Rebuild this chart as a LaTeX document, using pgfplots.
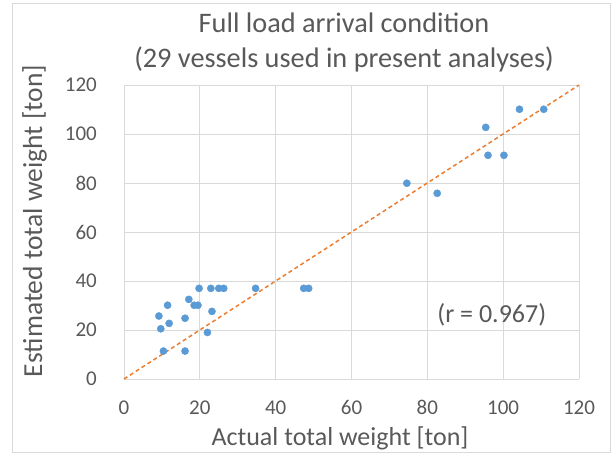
\documentclass[border=0pt]{standalone}
\usepackage{pgfplots}
\pgfplotsset{compat=1.18}
\usepackage{fontspec}
\setmainfont{Carlito}
\definecolor{txt}{HTML}{595959}
\definecolor{gridc}{HTML}{D9D9D9}
\definecolor{pts}{HTML}{5B9BD5}
\definecolor{fitc}{HTML}{ED7D31}
\begin{document}
\begin{tikzpicture}[x=1pt,y=1pt]
\useasboundingbox (0,0) rectangle (616,455);
\draw[gridc] (12,3) rectangle (610,452);
\node[text=txt,font=\fontsize{28.3}{35}\selectfont,anchor=base] at (344,422) {Full load arrival condition};
\node[text=txt,font=\fontsize{28.3}{35}\selectfont,anchor=base] at (344,387) {(29 vessels used in present analyses)};
\node[text=txt,font=\fontsize{26}{30}\selectfont] at (340,17) {Actual total weight [ton]};
\node[text=txt,font=\fontsize{27.5}{30}\selectfont,rotate=90,anchor=base] at (42,234) {Estimated total weight [ton]};
\begin{axis}[
  at={(124pt,76pt)}, anchor=south west,
  scale only axis, width=455pt, height=294pt,
  xmin=0, xmax=120, ymin=0, ymax=120,
  xtick={0,20,...,120}, ytick={0,20,...,120},
  grid=major, major grid style={gridc, line width=0.9pt},
  major tick length=0pt,
  axis x line*=bottom, axis y line*=left,
  x axis line style={gridc, line width=0.9pt, -},
  y axis line style={draw=none, -},
  /pgf/number format/assume math mode=true,
  xticklabel style={text=txt, font=\fontsize{21}{25}\selectfont, anchor=base, inner sep=0pt, yshift=-35.5pt},
  yticklabel style={text=txt, font=\fontsize{21}{25}\selectfont, anchor=east, inner sep=0pt, xshift=-27pt},
  clip=false,
]
\addplot[fitc, line width=1.5pt, dash pattern=on 4pt off 3pt] coordinates {(0,0) (120,120)};
\addplot[only marks, mark=*, mark size=3.6pt, mark options={pts, draw=pts, fill=pts}] coordinates {
(19.8,37.0) (22.9,37.0) (25.0,37.0) (26.3,37.0) (34.7,37.0) (47.4,37.0) (48.7,37.0)
(11.5,30.1) (17.1,32.5) (18.5,30.1) (19.5,30.1)
(9.2,25.7) (16.1,24.8) (23.2,27.6) (11.9,22.7) (9.7,20.5) (22.0,19.0)
(10.4,11.4) (16.1,11.4)
(74.6,79.9) (82.6,75.8) (95.4,102.7) (96.0,91.3) (100.2,91.3) (104.3,110.1) (110.7,110.1)
};
\node[text=txt, font=\fontsize{26}{30}\selectfont] at (axis cs:97,26.1) {(r = 0.967)};
\end{axis}
\end{tikzpicture}
\end{document}
